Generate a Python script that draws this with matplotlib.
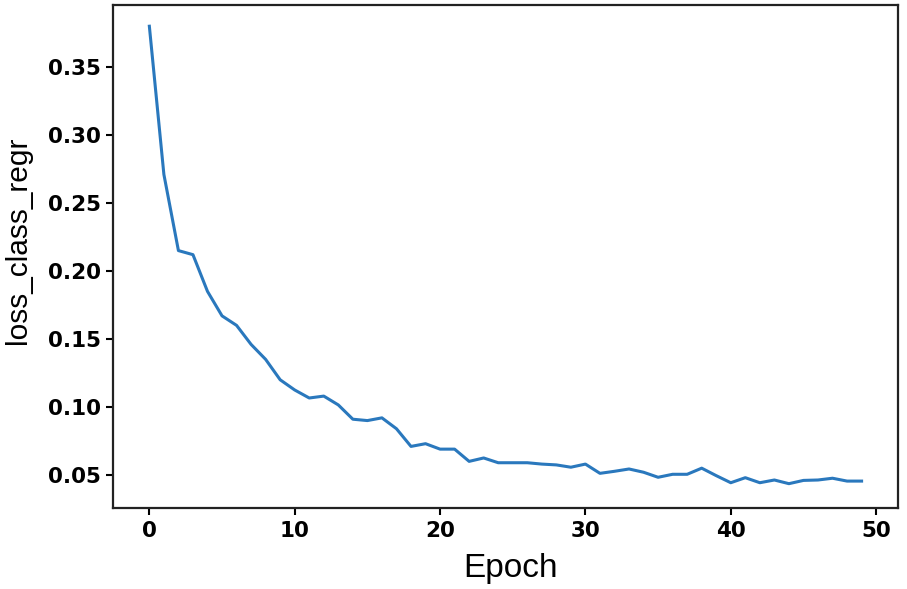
import matplotlib
matplotlib.use("Agg")
import matplotlib.pyplot as plt

# loss per epoch
epochs = list(range(50))
loss = [0.380, 0.271, 0.215, 0.212, 0.185, 0.167, 0.160, 0.146, 0.135, 0.120,
        0.1125, 0.1066, 0.108, 0.1015, 0.091, 0.090, 0.092, 0.084, 0.071, 0.073,
        0.069, 0.069, 0.060, 0.0625, 0.059, 0.059, 0.059, 0.058, 0.0574, 0.0557,
        0.058, 0.0512, 0.0527, 0.0544, 0.052, 0.0483, 0.0505, 0.0505, 0.055, 0.0495,
        0.0443, 0.048, 0.0443, 0.0463, 0.0436, 0.046, 0.0463, 0.0476, 0.0455, 0.0455]

xticks = [0, 10, 20, 30, 40, 50]
yticks = [0.05, 0.10, 0.15, 0.20, 0.25, 0.30, 0.35]

fig = plt.figure(figsize=(9.07, 5.89), dpi=100)
ax = fig.add_axes([0.1246, 0.1375, 0.8654, 0.854])

ax.plot(epochs, loss, color='#2a78bd', linewidth=2.2)

ax.set_xlim(-2.5, 51.5)
ax.set_ylim(0.0257, 0.3956)
ax.set_xticks(xticks)
ax.set_yticks(yticks)
ax.set_xticklabels([str(t) for t in xticks])
ax.set_yticklabels(['%.2f' % t for t in yticks])

for lab in ax.get_xticklabels() + ax.get_yticklabels():
    lab.set_fontfamily('DejaVu Sans')
    lab.set_fontweight('bold')
    lab.set_fontsize(15.5)

ax.tick_params(direction='out', length=5, width=1.5, pad=4)
for sp in ax.spines.values():
    sp.set_linewidth(1.6)
    sp.set_color('#222222')

# axis titles placed on the figure
fig.text(0.5625, 0.0204, 'Epoch', fontsize=24, family='Liberation Sans',
         ha='center', va='baseline')
fig.text(0.004, 0.5925, 'loss_class_regr', fontsize=21.5, family='Liberation Sans',
         rotation=90, ha='left', va='center')

fig.savefig('out.png', dpi=100)
